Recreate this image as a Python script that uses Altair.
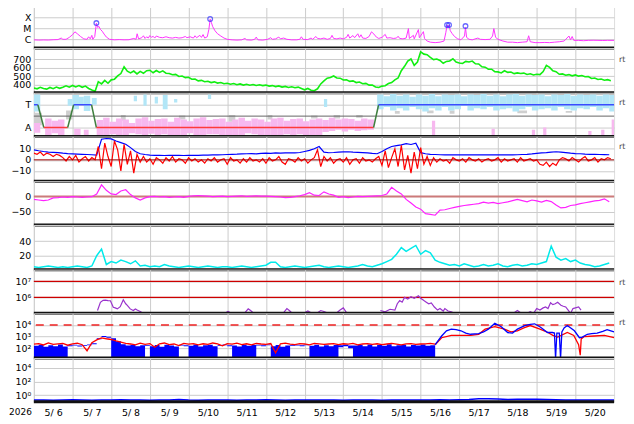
import altair as alt
import pandas as pd

W = 584
PH = [42, 45, 44, 45, 44, 45, 44, 45, 44]
FONT = "DejaVu Sans"
FS = 9.5
GRID = "#cccccc"

# ---------------- data ----------------
day_labels = ["5/ 6", "5/ 7", "5/ 8", "5/ 9", "5/10", "5/11", "5/12", "5/13",
              "5/14", "5/15", "5/16", "5/17", "5/18", "5/19", "5/20"]
year_label = "2026"
xray_classes = ["C", "M", "X"]

# X-ray flux (units of 1e-6 W/m2), hours from 5/6 00:00
xray_hours = [0, 3, 6, 9, 12, 15, 17, 18, 20, 22, 24, 25.5, 27, 29, 31, 33, 34, 35, 36, 36.6, 37.8, 38.8,
              39.6, 40.4, 41.3, 42.4, 43.6, 45, 47, 50, 53, 56, 59, 62, 63.4, 64.1, 65, 67, 68, 69, 70, 71,
              72, 73, 74, 75, 76, 78, 80, 82, 84, 86, 88, 90, 92, 94, 95, 97, 99, 100, 101, 103, 104, 105,
              106, 107.6, 108.6, 109.4, 110.2, 111, 112.4, 114, 116, 118, 120, 123, 126, 129, 131, 132, 135,
              137, 138, 139, 142, 145, 147, 148, 150, 152, 153, 155, 157, 160, 163, 165, 166, 167, 170, 172,
              173, 175, 176, 178, 180, 182, 184, 185, 186, 188, 190, 192, 194, 195, 196, 198, 199, 201, 202,
              203, 204, 206, 208, 209.5, 211, 212.5, 214, 216, 218, 219, 221, 223, 225, 226, 227, 229, 231,
              232.4, 233, 235.5, 236, 238.6, 239.2, 241.7, 242.4, 244, 246, 249, 252, 254.5, 255.6, 256.4,
              257, 257.6, 258.4, 259.5, 261, 263, 265, 267.2, 267.8, 268.5, 270, 272, 275.5, 277, 280, 283,
              284.6, 285.4, 286.5, 288, 291, 294, 297, 300, 303, 306, 307, 308, 311, 314, 317, 320, 323,
              326, 329, 332, 333, 334, 335, 338, 341, 344, 347, 350, 353, 356, 360]
xray_c = [0.9, 0.85, 0.88, 0.86, 0.92, 0.95, 1.3, 1.0, 1.0, 1.5, 2.6, 4.8, 3.2, 1.8, 1.1, 1.0, 1.7, 1.1, 2.3, 1.0, 1.8, 30,
          12, 15, 8, 5.5, 3, 1.6, 1.0, 0.9, 0.95, 0.9, 0.92, 1.2, 1.0, 3.2, 1.1, 1.4, 2.1, 1.2, 1.7, 1.3,
          2.2, 1.5, 1.9, 1.3, 2.0, 1.5, 1.4, 1.7, 1.4, 1.3, 1.5, 1.3, 1.4, 1.8, 1.4, 1.7, 1.3, 2.1, 1.4, 2.3, 1.5, 2.7,
          1.3, 1.7, 8, 70, 32, 14, 6, 3.2, 2.0, 1.3, 1.0, 0.9, 0.85, 0.9, 1.2, 0.9, 0.85,
          1.0, 1.6, 0.9, 0.85, 1.0, 1.4, 1.0, 1.1, 1.6, 1.1, 1.3, 1.0, 0.9, 0.9, 1.0, 1.7, 1.0, 0.95, 1.3,
          1.0, 1.8, 1.2, 1.1, 1.3, 1.0, 1.2, 2.3, 1.2, 1.1, 1.3, 1.1, 1.5, 2.8, 1.3, 2.2, 1.4, 3.2, 1.5,
          2.6, 1.3, 1.2, 1.8, 4.8, 3.0, 1.6, 1.2, 1.5, 2.8, 1.3, 1.4, 1.2, 1.3, 1.9, 1.2, 1.1, 1.3,
          9.4, 1.2, 2.3, 1.1, 7.7, 1.4, 5.0, 1.2, 0.7, 0.55, 0.5, 0.55, 0.7, 4.0, 20,
          14, 20, 6, 3.4, 1.8, 1.1, 0.9, 2.0, 12, 1.5, 1.0, 0.9, 1.3, 1.0, 0.95, 1.0,
          2.0, 9.4, 1.5, 1.0, 0.7, 0.55, 0.55, 0.5, 0.55, 0.6, 2.1, 0.6, 0.5, 0.5, 0.52, 0.5, 0.55,
          0.6, 0.7, 2.0, 0.9, 1.8, 0.8, 0.8, 0.75, 0.8, 0.82, 0.8, 0.78, 0.8, 0.8]
flare_hours = [38.8, 109.4, 256.4, 257.6, 267.8]
flare_c = [30, 70, 20, 20, 16]

# Solar wind speed (km/s), every 2 h
speed_step = 2
speed = [362, 352, 370, 356, 348, 368, 354, 372, 358,
         370, 388, 372, 392, 374, 390, 370, 384,
         356, 338, 322,
         436, 410, 452, 418, 458,
         466, 505, 532, 612, 560,
         540, 562, 528, 558, 536, 566,
         572, 542, 568, 546, 564, 536, 534,
         518, 522, 498, 504, 484, 488, 466, 468,
         446, 452, 436, 442, 426, 434, 420, 426, 412, 418,
         406, 414, 400, 410, 396, 406, 394, 402, 392, 400,
         390, 396, 384, 390, 378, 386, 372, 380, 368, 376, 364, 372,
         356, 340, 356, 336, 330, 352,
         410, 446, 478, 486, 504, 480, 478,
         456, 458, 440, 446, 426, 432, 412, 416, 396, 396,
         374, 368, 384, 388, 414, 426, 458,
         480, 566, 618, 680, 705, 630, 668, 790,
         762, 756, 724, 698, 705, 688, 654, 676,
         682, 708, 668, 658, 652, 676, 670, 680,
         648, 646, 612, 608, 584, 584, 554, 552, 540,
         566, 546, 550, 532, 540, 534, 538, 522, 530, 516,
         524, 520, 556, 630, 606,
         564, 554, 524, 528, 512, 520, 506,
         516, 502, 510, 494, 498, 474, 480,
         462, 468, 454, 460, 448]

# IMF sector: step line (T = +1, A = -1)
sector_hours = [0, 2.5, 6.2, 21, 24.7, 35.8, 38.8, 210.8, 213.9, 360]
sector_level = [1, 1, -1, -1, 1, 1, -1, -1, 1, 1]
# point clouds (start h, end h, top, bottom)
toward_cloud = [(0, 4, 1.9, 0.4), (21, 24, 1.5, 0.9), (24, 28, 1.85, 0.6), (28, 31, 1.7, 1.0), (31, 35, 1.8, 0.45),
                (36, 39, 1.6, 1.0), (62, 64, 1.8, 1.3), (68, 70, 1.9, 0.9), (75, 77, 1.7, 1.1),
                (80, 83, 1.85, 0.6), (87, 89, 1.5, 1.2), (108, 110, 1.9, 1.5), (180, 182, 1.5, 0.8),
                (213, 217, 1.9, 0.6), (217, 221, 1.75, 0.8), (221, 225, 1.95, 0.5), (225, 229, 1.8, 0.7),
                (229, 233, 1.9, 0.5), (233, 237, 1.7, 0.8), (237, 241, 1.9, 0.6), (241, 245, 1.8, 0.4),
                (245, 249, 1.95, 0.7), (249, 253, 1.75, 0.5), (253, 257, 1.9, 0.8), (257, 261, 1.85, 0.5),
                (261, 265, 1.9, 0.6), (265, 269, 1.75, 0.9), (269, 273, 1.9, 0.5), (273, 277, 1.85, 0.7),
                (277, 281, 1.95, 0.6), (281, 285, 1.8, 0.8), (285, 289, 1.9, 0.5), (289, 293, 1.75, 0.6),
                (293, 297, 1.9, 0.7), (297, 301, 1.95, 0.4), (301, 305, 1.8, 0.6), (305, 309, 1.9, 0.8),
                (309, 313, 1.85, 0.5), (313, 317, 1.9, 0.6), (317, 321, 1.75, 0.7), (321, 325, 1.9, 0.5),
                (325, 329, 1.85, 0.8), (329, 333, 1.95, 0.6), (333, 337, 1.8, 0.5), (337, 341, 1.9, 0.7),
                (341, 345, 1.85, 0.6), (345, 349, 1.9, 0.8), (349, 353, 1.8, 0.5), (353, 357, 1.9, 0.7),
                (357, 360, 1.85, 0.4)]
away_cloud = [(0, 4, -0.6, -1.45), (7, 11, -0.2, -1.7), (11, 15, -0.4, -1.5), (15, 19, -0.3, -1.75),
              (25, 29, -1.1, -1.7), (31, 34, -1.2, -1.8), (39, 43, -0.35, -1.7), (43, 47, -0.15, -1.8),
              (47, 51, -0.5, -1.6), (51, 55, -0.2, -1.75), (55, 59, -0.3, -1.8), (59, 63, -0.6, -1.5),
              (63, 67, -0.2, -1.6), (67, 71, -0.1, -1.7), (71, 75, -0.4, -1.55), (75, 79, -0.25, -1.8),
              (79, 83, -0.2, -1.6), (83, 87, -0.5, -1.7), (87, 91, -0.15, -1.75), (91, 95, -0.3, -1.8),
              (95, 99, -0.45, -1.5), (99, 103, -0.2, -1.7), (103, 107, -0.1, -1.75), (107, 111, -0.35, -1.6),
              (111, 115, -0.25, -1.6), (115, 119, -0.2, -1.8), (119, 123, -0.5, -1.65), (123, 127, -0.3, -1.7),
              (127, 131, -0.15, -1.75), (131, 135, -0.4, -1.5), (135, 139, -0.2, -1.6), (139, 143, -0.3, -1.8),
              (143, 147, -0.5, -1.7), (147, 151, -0.2, -1.7), (151, 155, -0.15, -1.75), (155, 159, -0.4, -1.6),
              (159, 163, -0.25, -1.8), (163, 167, -0.2, -1.6), (167, 171, -0.45, -1.65), (171, 175, -0.3, -1.7),
              (175, 179, -0.2, -1.75), (179, 183, -0.35, -1.4), (183, 187, -0.15, -1.3), (187, 191, -0.3, -1.2),
              (191, 195, -0.2, -1.35), (195, 199, -0.25, -1.2), (199, 203, -0.4, -1.3), (203, 207, -0.2, -1.25),
              (207, 211, -0.3, -1.2),
              (247, 249, -0.4, -1.8), (284, 286, -1.1, -1.8), (309, 311, -1.2, -1.7), (316, 318, -1.0, -1.8),
              (344, 346, -1.3, -1.8), (352, 354, -1.2, -1.75), (358.5, 360, -0.3, -1.8)]
mixed_cloud = [(0, 5, 0.3, -0.8), (20, 24, 0.5, -0.3), (54, 57, 0.1, -0.4),
               (90, 94, 0.05, -0.3), (121, 125, 0.1, -0.5), (145, 148, 0.1, -0.3), (172, 176, 0.05, -0.2),
               (186, 190, 0.1, -0.2), (200, 204, 0.1, -0.15), (224, 227, 0.45, 0.2), (244, 248, 0.5, 0.25),
               (258, 261, 0.5, 0.2), (300, 306, 0.5, 0.25), (330, 334, 0.45, 0.3)]

# IMF Bt and Bz (nT)
bt_step = 3
bt = [9.0, 8.2, 7.5, 7.0, 6.8, 6.5, 6.0, 5.6, 5.4, 5.2, 5.0, 4.8, 4.6, 4.2,
      18.5, 19.2, 18.8, 17.0, 15.5, 14.0, 11.0, 7.5, 5.5, 4.8,
      4.3, 4.0, 4.1, 3.9, 4.0, 4.1, 4.0, 3.9, 4.0, 4.1,
      4.0, 4.2, 4.3, 4.4, 4.5, 4.6, 4.8, 5.0, 5.1, 5.3,
      5.5, 5.6, 5.4, 5.8, 6.0, 5.9, 6.2, 6.1, 6.3, 6.4,
      6.2, 6.6, 7.5, 8.5, 10.0, 12.0, 7.0, 6.4, 6.6, 7.0,
      7.2, 7.3, 7.0, 6.8, 6.5, 6.2, 5.8, 5.5, 7.5, 10.0,
      12.0, 12.8, 13.5, 14.5, 13.8, 15.0, 6.5, 5.5, 5.0, 4.8,
      4.6, 4.5, 4.5, 4.4, 4.5, 4.6, 4.5, 4.4, 4.5, 4.6,
      4.5, 4.4, 4.5, 4.6, 4.5, 4.5, 4.6, 4.8, 5.0, 5.3,
      5.8, 6.2, 6.5, 7.0, 7.3, 7.0, 6.5, 6.0, 5.6, 5.5,
      5.2, 5.0, 4.9, 4.8, 4.7, 4.6]
bz_step = 2
bz = [6, 5, 7, 4, 6, 5, 3, 5, 4,
      2, -1, 3, 0, 4, -2, 1, 3, -1, 2, 0,
      12, -8, 15, 3, -6, 17, 9, -10, 14, -4, 8, -12, 5, -2,
      3, -2, 1, -4, 2, 0, -3, 2, -1, 3, -2, 1, 0, -3, 2, -1, 1, -2,
      0, -3, 1, -1, 2, -2, 0, 1, -4, 2, -1, 0, -3, 1, -2, 2, -1, 0, -2,
      1, -3, 2, -1, 0, 3, -2, -4, 1, 0, -2, 2, -1, 1, -3, 0, 2, 9,
      -6, 3, -1, 2, -3, 0, 1, -2, 2, -4, 0, 1, -3, 2, -1, 0, -2, 1,
      3, -5, 8, -7, 2, 10, -6, 13, -9, 4, -12, 7, -8, 11, -4, 3, -5,
      2, -2, 1, -1, 0, -3, 2, 0, -1, 1, -2, 2, 0, -1, 1, -2, 0,
      1, -1, 0, 2, -2, 1, -1, 0, 1, -2, 2, -1, 0, 1, -1, 0,
      -4, -5, -2, -6, -3, -5, 0, 2,
      1, -1, 2, 0, -2, 1, 3, -1, 0, 2, -2, 1, 0, 2, 1]

# Dst index (nT), every 3 h
dst_step = 3
dst = [-10, -12, -14, -12, -5, -4, -2, -3, -1, -2, -3, -2,
       -1, 8, 38, 20, 8, 6, 18, 22, 6, -5, -12, -5,
       -1, 0, -2, -1, -3, -2, -1, -3, 0, 2, 3, 2,
       1, -1, 0, 1, -1, 0, 1, 2, 0, 1, 2, 1,
       1, 0, -1, -2, -4, -3, -1, 2, 6, 12, 4, 3,
       15, 8, 4, -3, -1, -4, -2, 0, -1, 0, 1, 2,
       3, 8, 30, 18, 8, -10, -22, -35, -42, -57, -59, -62,
       -45, -44, -40, -36, -33, -30, -28, -26, -24, -19, -22, -20,
       -24, -21, -18, -14, -10, -14, -18, -12, -15, -19, -13, -17,
       -28, -38, -36, -30, -28, -24, -21, -18, -15, -13, -8, -18]

# proton density (/cc), every 3 h
dens_step = 3
dens = [5, 4, 5, 6, 5, 4, 5, 4, 5, 6, 5, 4, 6,
        20, 29, 8, 12, 10, 14, 12, 9, 13, 6,
        7, 5, 6, 5, 8, 6, 5, 4, 5, 6, 5, 4, 5, 6, 5, 4, 5, 5, 4, 5, 6, 5, 4, 5, 6, 7,
        11, 11,
        5, 4, 5, 6, 5, 4, 5, 6, 7, 5, 4, 5, 6, 5, 4, 5, 6, 8, 6, 5, 7, 9,
        12, 15, 22, 31, 26, 30, 34, 22, 27, 24, 14, 11,
        9, 7, 8, 6, 9, 7, 5, 6, 8, 6, 7, 9, 6, 5, 7, 8, 6, 7, 9, 8, 10, 12,
        33, 18, 14, 16, 12, 14, 10, 8, 7, 5, 6, 8, 10]

# energetic electrons (segments)
elec_hours = [
    [39.5, 41.3, 43, 44.4, 46, 47.5, 49.3, 50.5, 51.8, 53.6, 55.5, 57, 58, 59.8, 61.7, 63, 64.1, 66, 67.8],
    [119, 120.5, 122],
    [131, 133, 134.5, 136],
    [155, 157, 158.5, 160],
    [168, 170, 172],
    [176, 178, 180, 182],
    [188, 190, 192, 194],
    [215, 218, 221, 224, 225.5, 227, 228.5, 230, 232, 234, 236, 238.6, 240, 242, 243.5, 245, 246.6,
     248.5, 250.5, 252, 254, 255, 257, 259, 261],
    [298, 300, 302],
    [306, 308, 310, 312, 314, 316, 317.5, 319, 320.6, 322, 323.5, 325, 327, 328.5, 330, 331.5, 333,
     334.5, 336, 338, 339.5]]
elec_flux = [
    [1.5e5, 4.9e5, 6.5e5, 6.8e5, 6.3e5, 6.2e5, 2.4e5, 2.2e5, 1.9e5, 2.6e5, 7.1e5, 4e5, 3.2e5, 1.9e5, 1.5e5,
     1.9e5, 1.6e5, 1.3e5, 1.0e5],
    [1.1e5, 1.3e5, 1.1e5],
    [1.1e5, 1.9e5, 1.5e5, 1.1e5],
    [1.1e5, 2e5, 1.5e5, 1.1e5],
    [1.1e5, 1.4e5, 1.1e5],
    [1.1e5, 1.5e5, 1.3e5, 1.1e5],
    [1.1e5, 1.6e5, 2.2e5, 1.1e5],
    [1.5e5, 1.26e5, 1.8e5, 1.6e5, 4e5, 6.3e5, 5e5, 1.0e6, 7.9e5, 1.1e6, 8.9e5, 1.26e6, 8.9e5, 6.3e5, 5e5,
     4e5, 4.5e5, 2.5e5, 1.6e5, 2e5, 1.4e5, 2e5, 1.4e5, 1.26e5, 1.0e5],
    [1.1e5, 1.5e5, 1.1e5],
    [1e5, 1.26e5, 1e5, 2e5, 1.6e5, 2.2e5, 2.5e5, 2e5, 4.6e5, 3.5e5, 4e5, 5e5, 3.2e5, 2.8e5, 2.5e5, 1.6e5,
     1e5, 2e5, 2.2e5, 2.5e5, 1.6e5]]
elec_levels = [1e6, 1e7]

# energetic protons: early noisy part every 3 h (blue band top/bottom, red line)
prot_step = 3
prot_blue_hi = [160, 200, 130, 180, 150, 210, 140,
                180, 200, 170, 190, 210,
                260, 700, 1100, 950,
                700, 400, 220, 170, 200, 150,
                180, 190,
                150, 190, 130, 200, 170, 140,
                200, 180,
                160, 210, 140, 180, 200, 150,
                190, 210, 180,
                170, 140, 200, 160, 190,
                200, 180, 210,
                150, 190, 130, 170,
                190, 200, 180, 210,
                160, 200, 140, 180, 150, 190,
                180, 200, 170,
                170, 200, 150, 210, 140, 190, 160, 220, 150, 180, 200, 140, 190, 170, 210, 160, 180, 200]
prot_blue_lo = [12, 12, 12, 12, 12, 12, 12,
                150, 170, 140, 160, 180,
                220, 600, 900, 800,
                12, 12, 12, 12, 12, 12,
                12, 160,
                12, 12, 12, 12, 12, 12,
                170, 150,
                12, 12, 12, 12, 12, 12,
                160, 180, 150,
                12, 12, 12, 12, 12,
                170, 150, 180,
                12, 12, 12, 12,
                160, 170, 150, 180,
                12, 12, 12, 12, 12, 12,
                120, 150, 100,
                12, 12, 12, 12, 12, 12, 12, 12, 12, 12, 12, 12, 12, 12, 12, 12, 12, 12]
prot_red_early = [220, 250, 190, 280, 210, 240, 260, 180, 230, 270, 200, 60,
                  300, 520, 780, 650, 560, 420, 330, 260,
                  230, 190, 270, 210, 250, 120, 240, 280,
                  200, 230, 170, 260, 220, 250, 190, 240,
                  210, 280, 230, 160, 250, 220, 270, 200,
                  240, 190, 260, 230, 210, 250, 40, 240,
                  270, 220, 200, 250, 230, 190, 260, 240,
                  210, 230, 250, 200, 240, 220, 260, 190,
                  230, 250, 210, 240, 200, 230, 260, 220,
                  190, 240, 250, 210, 230, 240, 260, 220]
prot_blue_late_h = [249, 253, 256, 259, 262, 265, 268, 271, 276, 279, 282, 286, 290, 294, 297, 300, 304.6,
                    308, 310.7, 314.4, 318.7, 321.8, 323, 323.7, 324.5, 326, 326.8, 327.6, 329, 331, 335.4,
                    338.5, 340.3, 343.4, 346, 349.5, 353, 355.7, 358, 360]
prot_blue_late = [200, 1120, 3160, 4370, 3980, 3160, 2000, 1580, 1780, 2510, 4370, 14100, 7080, 2240, 2000,
                  4370, 8910, 11200, 12600, 6310, 2240, 2240, 2000, 12.6, 2000, 2000, 12.6, 2510, 5620, 8910,
                  3160, 794, 891, 1580, 1780, 2000, 2820, 3980, 3160, 2510]
prot_red_late_h = [249, 253, 259, 265, 271, 276, 280, 286, 292, 296, 300, 304, 308, 314, 319, 322, 325, 331,
                   335, 338, 339, 339.6, 341.5, 347.7, 354, 360]
prot_red_late = [200, 794, 1260, 1260, 1260, 1580, 4370, 7080, 4370, 2510, 3160, 5620, 8910, 4370, 2240,
                 1260, 891, 2240, 1260, 200, 25, 631, 1000, 1120, 1260, 794]
prot_threshold = [1e4]

# lowest panel, every 6 h
low_step = 6
low = [0.18, 0.19, 0.17, 0.18, 0.2, 0.18, 0.17, 0.19, 0.18, 0.2,
       0.19, 0.18, 0.17, 0.18, 0.19, 0.21, 0.18, 0.17, 0.19, 0.18,
       0.18, 0.17, 0.19, 0.18, 0.2, 0.18, 0.17, 0.18, 0.19, 0.18,
       0.18, 0.19, 0.17, 0.18, 0.19, 0.18, 0.17, 0.18, 0.19, 0.18,
       0.18, 0.19, 0.2, 0.19, 0.2, 0.22, 0.27, 0.28, 0.26, 0.21,
       0.23, 0.24, 0.23, 0.21, 0.2, 0.19, 0.18, 0.19, 0.18, 0.19, 0.18]


# ---------------- helpers ----------------
def grid_df(vals, step, scale=1.0):
    return pd.DataFrame({"h": [i * step for i in range(len(vals))], "v": [v * scale for v in vals]})


def cloud_df(recs, color):
    return pd.DataFrame({"h": [r[0] for r in recs], "h2": [r[1] for r in recs],
                         "v": [r[2] for r in recs], "v2": [r[3] for r in recs], "c": color})


ONE = pd.DataFrame({"a": [0]})
XS = alt.Scale(domain=[0, 360], nice=False, zero=False)
DAY_EXPR = "[" + ",".join("'%s'" % d for d in day_labels) + "][round(datum.value/24)]"
POW_EXPR = "'10' + ['\u2070','\u00b9','\u00b2','\u00b3','\u2074','\u2075','\u2076','\u2077'][round(log(datum.value)/LN10)]"


def X(labels=False):
    kw = dict(values=list(range(0, 337, 24)), grid=True, gridColor=GRID, gridWidth=1, ticks=False,
              domain=False, title=None, labels=labels)
    if labels:
        kw.update(labelExpr=DAY_EXPR, labelOffset=W / 15 / 2, labelPadding=6, labelFontSize=FS,
                  labelFont=FONT, labelColor="#000", labelOverlap=False, labelFlush=False, labelBound=False)
    return alt.X("h:Q", scale=XS, axis=alt.Axis(**kw))


def Y(domain, values, log=False, expr=None):
    kw = dict(values=values, grid=True, gridColor=GRID, gridWidth=1, ticks=False, domain=False, title=None,
              labelPadding=3, labelOverlap=False, labelFontSize=FS, labelFont=FONT, labelColor="#000")
    if expr:
        kw["labelExpr"] = expr
    sc = alt.Scale(domain=domain, type="log" if log else "linear", nice=False, zero=False)
    return alt.Y("v:Q", scale=sc, axis=alt.Axis(**kw))


def sep(h):
    return alt.Chart(ONE).mark_rule(color="#111", strokeWidth=3).encode(
        x=alt.value(0), x2=alt.value(W), y=alt.value(h))


def rt(y=11):
    return alt.Chart(ONE).mark_text(text="rt", align="left", baseline="middle", fontSize=8,
                                    color="#444", font=FONT).encode(x=alt.value(W + 5), y=alt.value(y))


# ---------------- panel 1: X-ray ----------------
y1 = Y([1.6e-7, 1.0e-3], [1e-6, 1e-5, 1e-4], log=True,
       expr="[" + ",".join("'%s'" % c for c in xray_classes) + "][round(log(datum.value)/LN10) + 6]")
df_x = pd.DataFrame({"h": xray_hours, "v": [c * 1e-6 for c in xray_c]})
df_f = pd.DataFrame({"h": flare_hours, "v": [c * 1e-6 for c in flare_c]})
p1 = alt.layer(
    alt.Chart(df_x).mark_line(color="#ff33ff", strokeWidth=1, clip=True).encode(x=X(), y=y1),
    alt.Chart(df_f).mark_point(shape="circle", filled=False, color="#2a2aff", size=22, strokeWidth=1.3,
                               clip=True).encode(x=X(), y=y1),
    sep(PH[0]),
).properties(width=W, height=PH[0])

# ---------------- panel 2: speed ----------------
y2 = Y([305, 834], [400, 500, 600, 700])
p2 = alt.layer(
    alt.Chart(grid_df(speed, speed_step)).mark_line(color="#11ee11", strokeWidth=1.6, clip=True).encode(x=X(), y=y2),
    rt(12), sep(PH[1]),
).properties(width=W, height=PH[1])

# ---------------- panel 3: sector ----------------
y3 = Y([-1.79, 2.05], [-1, 1], expr="datum.value > 0 ? 'T' : 'A'")
seg_rows = []
for i in range(len(sector_hours) - 1):
    a, b = sector_level[i], sector_level[i + 1]
    col = "#3a4cff" if (a == 1 and b == 1) else ("#ff3a3a" if (a == -1 and b == -1) else "#3f7f3f")
    seg_rows.append({"h": sector_hours[i], "v": a, "seg": i, "c": col})
    seg_rows.append({"h": sector_hours[i + 1], "v": b, "seg": i, "c": col})
df_sec = pd.DataFrame(seg_rows)
df_clouds = pd.concat([cloud_df(mixed_cloud, "#cfcfcf"), cloud_df(away_cloud, "#f7b8ef"),
                       cloud_df(toward_cloud, "#b2e6f7")], ignore_index=True)
p3 = alt.layer(
    alt.Chart(df_clouds).mark_rect(clip=True).encode(x=X(), x2="h2:Q", y=y3, y2="v2:Q",
                                                     color=alt.Color("c:N", scale=None)),
    alt.Chart(pd.DataFrame({"v": [0]})).mark_rule(color="#666", strokeWidth=1).encode(y=y3),
    alt.Chart(df_sec).mark_line(strokeWidth=1.5, clip=True).encode(
        x=X(), y=y3, detail="seg:N", color=alt.Color("c:N", scale=None)),
    rt(10), sep(PH[2]),
).properties(width=W, height=PH[2])

# ---------------- panel 4: IMF ----------------
y4 = Y([-19.2, 21], [-10, 0, 10])
p4 = alt.layer(
    alt.Chart(grid_df(bt, bt_step)).mark_line(color="#0000ff", strokeWidth=1.2, clip=True).encode(x=X(), y=y4),
    alt.Chart(grid_df(bz, bz_step)).mark_line(color="#ff0000", strokeWidth=1.2, clip=True).encode(x=X(), y=y4),
    alt.Chart(pd.DataFrame({"v": [0]})).mark_rule(color="#a00000", strokeWidth=1).encode(y=y4),
    rt(11), sep(PH[3]),
).properties(width=W, height=PH[3])

# ---------------- panel 5: Dst ----------------
y5 = Y([-94, 50], [-50, 0])
p5 = alt.layer(
    alt.Chart(pd.DataFrame({"v": [0]})).mark_rule(color="#cc7a7a", strokeWidth=2).encode(y=y5),
    alt.Chart(grid_df(dst, dst_step)).mark_line(color="#ff22ff", strokeWidth=1.2, clip=True).encode(x=X(), y=y5),
    sep(PH[4]),
).properties(width=W, height=PH[4])

# ---------------- panel 6: density ----------------
y6 = Y([1, 62], [20, 40])
p6 = alt.layer(
    alt.Chart(grid_df(dens, dens_step)).mark_line(color="#00eaea", strokeWidth=1.5, clip=True).encode(x=X(), y=y6),
    sep(PH[5]),
).properties(width=W, height=PH[5])

# ---------------- panel 7: electrons ----------------
y7 = Y([1e5, 5.5e7], [1e6, 1e7], log=True, expr=POW_EXPR)
erows = []
for k, (hs, fs) in enumerate(zip(elec_hours, elec_flux)):
    for hh, ff in zip(hs, fs):
        erows.append({"h": hh, "v": ff, "seg": k})
df_e = pd.DataFrame(erows)
p7 = alt.layer(
    alt.Chart(pd.DataFrame({"v": elec_levels})).mark_rule(color="#cc0000", strokeWidth=1.2).encode(y=y7),
    alt.Chart(df_e).mark_line(color="#9933cc", strokeWidth=1.2, clip=True).encode(x=X(), y=y7, detail="seg:N"),
    rt(13), sep(PH[6]),
).properties(width=W, height=PH[6])

# ---------------- panel 8: protons ----------------
y8 = Y([14.1, 1.0e5], [100, 1000, 10000], log=True, expr=POW_EXPR)
df_band = pd.DataFrame({"h": [i * prot_step for i in range(len(prot_blue_hi))], "v": prot_blue_hi,
                        "v2": prot_blue_lo})
p8 = alt.layer(
    alt.Chart(pd.DataFrame({"v": prot_threshold})).mark_rule(color="#ee2222", strokeWidth=1.5,
                                                             strokeDash=[8, 6]).encode(y=y8),
    alt.Chart(df_band).mark_area(color="#0000ff", opacity=1, interpolate="step-after", clip=True).encode(
        x=X(), y=y8, y2="v2:Q"),
    alt.Chart(grid_df(prot_red_early, prot_step)).mark_line(color="#ff0000", strokeWidth=1.3, clip=True).encode(x=X(), y=y8),
    alt.Chart(pd.DataFrame({"h": prot_red_late_h, "v": prot_red_late})).mark_line(
        color="#ff0000", strokeWidth=1.3, clip=True).encode(x=X(), y=y8),
    alt.Chart(pd.DataFrame({"h": prot_blue_late_h, "v": prot_blue_late})).mark_line(
        color="#0000ff", strokeWidth=1.3, clip=True).encode(x=X(), y=y8),
    rt(10), sep(PH[7]),
).properties(width=W, height=PH[7])

# ---------------- panel 9 ----------------
y9 = Y([0.1, 2.95e5], [1, 100, 10000], log=True, expr=POW_EXPR)
p9 = alt.layer(
    alt.Chart(grid_df(low, low_step)).mark_line(color="#0000ff", strokeWidth=1.5, clip=True).encode(x=X(True), y=y9),
    alt.Chart(ONE).mark_text(text=year_label, align="right", baseline="top", fontSize=9, font=FONT,
                             color="#000").encode(x=alt.value(-2), y=alt.value(PH[8] + 6)),
    sep(PH[8]),
).properties(width=W, height=PH[8])

chart = alt.vconcat(p1, p2, p3, p4, p5, p6, p7, p8, p9, spacing=0, bounds="flush",
                    padding={"left": 0, "top": -4, "right": 0, "bottom": 0}).configure_view(
    stroke="#333", strokeWidth=1).configure(font=FONT)

chart.save("out.html", embed_options={"renderer": "svg", "actions": False})
